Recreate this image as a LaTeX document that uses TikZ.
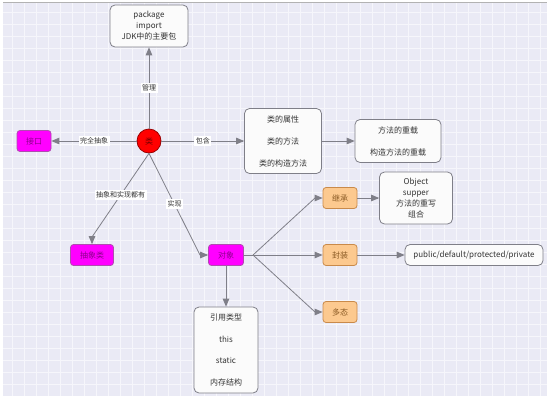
\documentclass[tikz,border=0pt]{standalone}
\usepackage{fontspec}
\setmainfont{Noto Sans CJK SC}
\usetikzlibrary{arrows}
\definecolor{canvas}{HTML}{EAEAF5}
\definecolor{linegray}{HTML}{7F7F88}
\definecolor{magentafill}{HTML}{FF00FF}
\definecolor{magentatext}{HTML}{8E008E}
\definecolor{orangefill}{HTML}{FCC98F}
\definecolor{orangeline}{HTML}{C98A4A}
\definecolor{orangetext}{HTML}{8A5A24}

\begin{document}
\begin{tikzpicture}[x=1pt, y=-1pt, ->, >=triangle 45, line width=0.8pt, draw=linegray,
    font=\fontsize{8}{11}\selectfont,
    whitebox/.style={draw=linegray, fill=white!97!gray, rounded corners=5pt, align=center, text=black!80},
    pinkbox/.style={draw=magentatext!70, fill=magentafill, rounded corners=3pt, text=magentatext,
      minimum width=35pt, minimum height=21pt},
    orangebox/.style={draw=orangeline, fill=orangefill, rounded corners=3pt, text=orangetext,
      minimum width=34pt, minimum height=21pt},
    clsnode/.style={circle, draw=red!60!black, fill=red, text=red!45!black, minimum size=24pt, inner sep=0pt},
    lbl/.style={fill=white, inner sep=1.5pt, text=black!80, font=\fontsize{7}{8}\selectfont}]
    % background
    \fill[white] (0,0) rectangle (554,402);
    \fill[canvas] (3,3) rectangle (547,396);
    \draw[-, white, opacity=0.6, line width=0.4pt, step=12pt] (3,3) grid (547,396);
    \draw[-, gray!60, line width=0.6pt] (3,2.5) -- (547,2.5);
    % nodes
    \node (cls) [clsnode] at (149,141) {类};
    \node (pkg) [whitebox, minimum width=78pt, minimum height=42pt, above of=cls, node distance=115pt]
      {package\\import\\JDK中的主要包};
    \node (iface) [pinkbox, minimum width=34pt, left of=cls, node distance=115pt] {接口};
    \node (member) [whitebox, minimum width=77pt, minimum height=65pt, right of=cls, node distance=134pt]
      {类的属性\\[11pt]类的方法\\[11pt]类的构造方法};
    \node (overload) [whitebox, minimum width=86pt, minimum height=43pt, right of=member, node distance=115pt]
      {方法的重载\\[11pt]构造方法的重载};
    \node (abstr) [pinkbox, minimum width=43pt, below of=cls, node distance=114pt, xshift=-57pt] {抽象类};
    \node (obj) [pinkbox, below of=cls, node distance=114pt, xshift=77pt] {对象};
    \node (ref) [whitebox, minimum width=64pt, minimum height=86pt, below of=obj, node distance=95pt]
      {引用类型\\[10.5pt]this\\[10.5pt]static\\[10.5pt]内存结构};
    \node (encap) [orangebox, right of=obj, node distance=114pt] {封装};
    \node (inherit) [orangebox, above of=encap, node distance=57pt] {继承};
    \node (poly) [orangebox, below of=encap, node distance=57pt] {多态};
    \node (objbox) [whitebox, minimum width=73pt, minimum height=52pt, right of=inherit, node distance=76pt]
      {Object\\supper\\方法的重写\\组合};
    \node (access) [whitebox, minimum width=138pt, minimum height=21pt, right of=encap, node distance=134pt]
      {public/default/protected/private};
    % bend points
    \coordinate (abbend) at (92,237);
    \coordinate (objbend) at (200,255);
    \coordinate (fan) at (253,255);
    \coordinate (inbend) at (315,198);
    \coordinate (polybend) at (315,312);
    % connectors
    \path
    (cls) edge node [lbl] {管理} (pkg)
    (cls) edge node [lbl] {完全抽象} (iface)
    (cls) edge node [lbl] {包含} (member)
    (member) edge (overload)
    (obj) edge (ref)
    (fan) edge (encap)
    (inherit) edge (objbox)
    (encap) edge (access)
    ;
    \draw (cls.south) -- node [lbl] {抽象和实现都有} (abbend) -- (abstr);
    \draw (cls.south) -- node [lbl] {实现} (objbend) -- (obj);
    \draw[-] (obj) -- (fan);
    \draw (fan) -- (inbend) -- (inherit);
    \draw (fan) -- (polybend) -- (poly);
\end{tikzpicture}
\end{document}
